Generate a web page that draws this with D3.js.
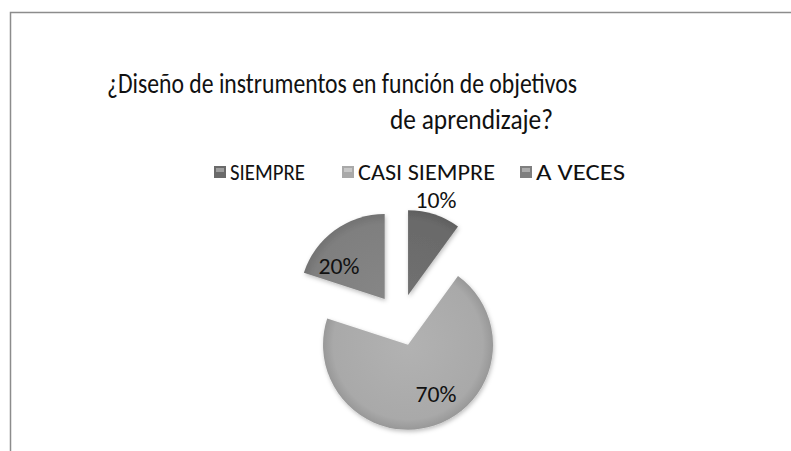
<!DOCTYPE html>
<html>
<head>
<meta charset="utf-8">
<script src="https://cdn.jsdelivr.net/npm/d3@7"></script>
<style>
  body { margin: 0; background: #fff; }
  svg { display: block; font-family: Carlito, Calibri, Lato, "Open Sans", sans-serif; }
</style>
</head>
<body>
<div id="chart"></div>
<script>
// Data
const categories = ["SIEMPRE", "CASI SIEMPRE", "A VECES"];
const values = [10, 70, 20];
const labels = ["10%", "70%", "20%"];
const colors = ["#6a6a6a", "#a9a9a9", "#7f7f7f"];
const titleLines = ["¿Diseño de instrumentos en función de objetivos", "de aprendizaje?"];

const width = 791, height = 451;

const svg = d3.select("#chart").append("svg")
    .attr("width", width)
    .attr("height", height);

// chart frame (bottom is cut off)
svg.append("path")
    .attr("d", "M10.5,451 V12.5 H791")
    .attr("fill", "none")
    .attr("stroke", "#8c8c8c")
    .attr("stroke-width", 1.5);

// title, stretched to the widths seen in the picture
const titleSpans = [[107, 577, 93], [390, 553, 129]];
titleLines.forEach((t, i) => {
    svg.append("text")
        .attr("x", titleSpans[i][0]).attr("y", titleSpans[i][2])
        .attr("font-size", 28.5)
        .attr("fill", "#111")
        .attr("textLength", titleSpans[i][1] - titleSpans[i][0])
        .attr("lengthAdjust", "spacingAndGlyphs")
        .text(t);
});

// gradients for slices
const defs = svg.append("defs");
colors.forEach((c, i) => {
    const g = defs.append("radialGradient")
        .attr("id", "grad" + i)
        .attr("gradientUnits", "userSpaceOnUse")
        .attr("cx", 0).attr("cy", 0).attr("r", 88);
    g.append("stop").attr("offset", "0%").attr("stop-color", d3.color(c).brighter(0.15));
    g.append("stop").attr("offset", "85%").attr("stop-color", c);
    g.append("stop").attr("offset", "100%").attr("stop-color", d3.color(c).darker(0.4));
});
const shadow = defs.append("filter").attr("id", "shadow")
    .attr("x", "-20%").attr("y", "-20%").attr("width", "140%").attr("height", "140%");
shadow.append("feDropShadow")
    .attr("dx", 1).attr("dy", 2).attr("stdDeviation", 2)
    .attr("flood-color", "#000").attr("flood-opacity", 0.25);

// legend
const legendX = [214, 342, 520];
const legendW = [75, 137, 89];
const legend = svg.append("g");
categories.forEach((cat, i) => {
    const g = legend.append("g").attr("transform", `translate(${legendX[i]},172)`);
    g.append("rect")
        .attr("x", 0).attr("y", -6)
        .attr("width", 12).attr("height", 12)
        .attr("fill", colors[i]);
    g.append("rect")
        .attr("x", 2).attr("y", -4)
        .attr("width", 8).attr("height", 4)
        .attr("fill", "#fff").attr("opacity", 0.35);
    g.append("text")
        .attr("x", 16).attr("y", 0)
        .attr("dy", "0.36em")
        .attr("font-size", 21.5)
        .attr("fill", "#111")
        .attr("textLength", legendW[i])
        .attr("lengthAdjust", "spacingAndGlyphs")
        .text(cat);
});

// pie
const cx = 400, cy = 320, radius = 85, explode = 26;
const pie = d3.pie().sort(null).value(d => d);
const arc = d3.arc().innerRadius(0).outerRadius(radius);
const arcs = pie(values);

const pieG = svg.append("g").attr("transform", `translate(${cx},${cy})`);
const slice = pieG.selectAll(".slice")
    .data(arcs)
    .enter().append("g")
    .attr("class", "slice")
    .attr("transform", d => {
        const a = (d.startAngle + d.endAngle) / 2;
        return `translate(${explode * Math.sin(a)},${-explode * Math.cos(a)})`;
    });

slice.append("path")
    .attr("d", arc)
    .attr("fill", (d, i) => `url(#grad${i})`)
    .attr("filter", "url(#shadow)");

// data labels
const labelPos = [[436, 200], [436, 394], [339, 266]];
svg.selectAll(".lbl")
    .data(arcs)
    .enter().append("text")
    .attr("class", "lbl")
    .attr("x", (d, i) => labelPos[i][0])
    .attr("y", (d, i) => labelPos[i][1])
    .attr("dy", "0.36em")
    .attr("text-anchor", "middle")
    .attr("font-size", 23)
    .attr("fill", "#111")
    .attr("textLength", 41)
    .attr("lengthAdjust", "spacingAndGlyphs")
    .text((d, i) => labels[i]);
</script>
</body>
</html>
